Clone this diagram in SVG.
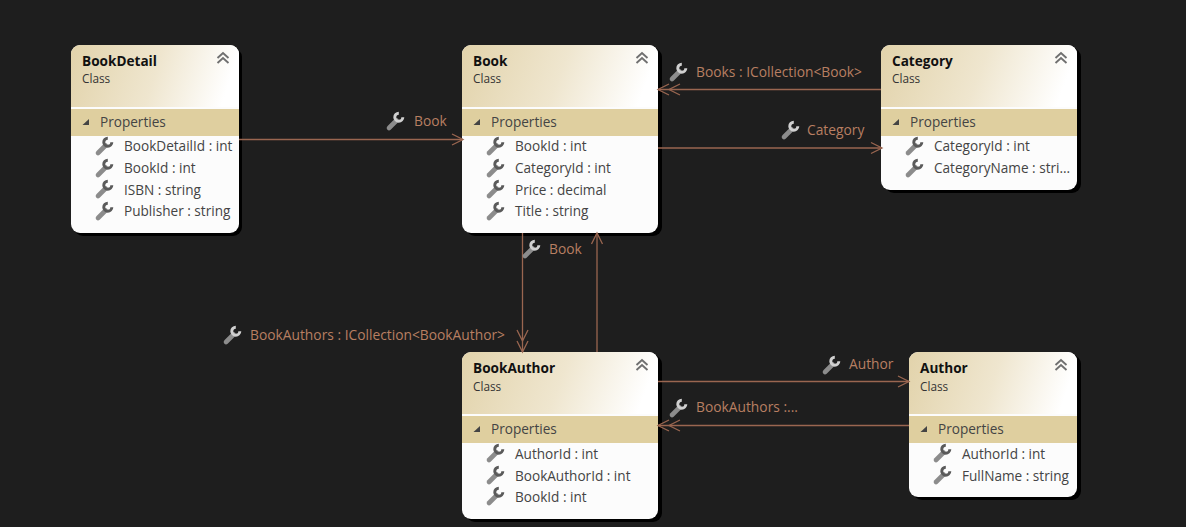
<svg xmlns="http://www.w3.org/2000/svg" width="1186" height="527" viewBox="0 0 1186 527">
<style>
text{font-family:"Open Sans","Noto Sans","Liberation Sans",sans-serif}
.t{font-size:13.6px;font-weight:700;fill:#111}
.c{font-size:11.8px;fill:#333}
.p{font-size:13.6px;fill:#444}
.l{font-size:13.8px;fill:#b87f62}
.e{fill:none;stroke:#9a6650;stroke-width:1.3}
.s{fill:#000}
.b{fill:#fcfcfc}
.h{fill:url(#hg)}
.band{fill:#dfcf9f}
.chev{fill:none;stroke:#707070;stroke-width:1.9}
.node{color:#5a5a5a}
#connectors{color:#d0d0d0}
</style>
<defs>
<linearGradient id="hg" x1="0" y1="0" x2="1" y2="0.12"><stop offset="0" stop-color="#e2d3ab"/><stop offset="0.55" stop-color="#efe6cf"/><stop offset="1" stop-color="#ffffff"/></linearGradient>
<marker id="a" markerUnits="userSpaceOnUse" markerWidth="14" markerHeight="14" refX="12" refY="7" orient="auto"><path d="M1 1.500L12 7L1 12.500" fill="none" stroke="#9a6650" stroke-width="1.3"/></marker>
<marker id="aa" markerUnits="userSpaceOnUse" markerWidth="26" markerHeight="14" refX="24" refY="7" orient="auto"><path d="M13 1.500L24 7L13 12.500M2 1.500L13 7L2 12.500" fill="none" stroke="#9a6650" stroke-width="1.3"/></marker>
<g id="w"><path d="M-6 7L1.500 -0.500" fill="none" stroke="#8c8c8c" stroke-width="4.6" stroke-linecap="round"/><path d="M3.800 -7.800A4 4 0 1 0 7.800 -3.800" fill="none" stroke="currentColor" stroke-width="3"/></g>
<g id="ch" class="chev"><path d="M-5.500 -1L0 -6L5.500 -1M-5.500 4L0 -1L5.500 4"/></g>
<g id="tri"><path d="M-3.500 3L3 3L3 -3Z" fill="#444"/></g>
</defs>
<rect width="1186" height="527" fill="#1e1e1e"/>

<g id="BookDetail" class="node">
<rect class="s" x="74" y="48" width="168" height="188" rx="9"/>
<rect class="b" x="71" y="45" width="168" height="188" rx="9"/>
<path class="h" d="M71 107V54a9 9 0 0 1 9-9H230a9 9 0 0 1 9 9V107Z"/>
<rect class="band" x="71" y="109" width="168" height="27"/>
<use href="#ch" x="223" y="59"/><use href="#tri" x="86" y="122"/>
<text class="t" x="82" y="66">BookDetail</text><text class="c" x="82" y="83">Class</text>
<text class="p" x="100" y="127">Properties</text>
<use href="#w" x="104" y="146"/><text class="p" x="124" y="151">BookDetailId : int</text>
<use href="#w" x="104" y="168"/><text class="p" x="124" y="173">BookId : int</text>
<use href="#w" x="104" y="189"/><text class="p" x="124" y="195">ISBN : string</text>
<use href="#w" x="104" y="211"/><text class="p" x="124" y="216">Publisher : string</text>
</g>

<g id="Book" class="node">
<rect class="s" x="466" y="48" width="196" height="188" rx="9"/>
<rect class="b" x="462" y="45" width="196" height="188" rx="9"/>
<path class="h" d="M462 107V54a9 9 0 0 1 9-9H649a9 9 0 0 1 9 9V107Z"/>
<rect class="band" x="462" y="109" width="196" height="27"/>
<use href="#ch" x="642" y="59"/><use href="#tri" x="477" y="122"/>
<text class="t" x="473" y="66">Book</text><text class="c" x="473" y="83">Class</text>
<text class="p" x="491" y="127">Properties</text>
<use href="#w" x="495" y="146"/><text class="p" x="515" y="151">BookId : int</text>
<use href="#w" x="495" y="168"/><text class="p" x="515" y="173">CategoryId : int</text>
<use href="#w" x="495" y="189"/><text class="p" x="515" y="195">Price : decimal</text>
<use href="#w" x="495" y="211"/><text class="p" x="515" y="216">Title : string</text>
</g>

<g id="Category" class="node">
<rect class="s" x="885" y="48" width="196" height="145" rx="9"/>
<rect class="b" x="881" y="45" width="196" height="145" rx="9"/>
<path class="h" d="M881 107V54a9 9 0 0 1 9-9H1068a9 9 0 0 1 9 9V107Z"/>
<rect class="band" x="881" y="109" width="196" height="27"/>
<use href="#ch" x="1061" y="59"/><use href="#tri" x="896" y="122"/>
<text class="t" x="892" y="66">Category</text><text class="c" x="892" y="83">Class</text>
<text class="p" x="910" y="127">Properties</text>
<use href="#w" x="914" y="146"/><text class="p" x="934" y="151">CategoryId : int</text>
<use href="#w" x="914" y="168"/><text class="p" x="934" y="173">CategoryName : stri...</text>
</g>

<g id="BookAuthor" class="node">
<rect class="s" x="466" y="355" width="196" height="167" rx="9"/>
<rect class="b" x="462" y="352" width="196" height="167" rx="9"/>
<path class="h" d="M462 414V361a9 9 0 0 1 9-9H649a9 9 0 0 1 9 9V414Z"/>
<rect class="band" x="462" y="416" width="196" height="27"/>
<use href="#ch" x="642" y="366"/><use href="#tri" x="477" y="429"/>
<text class="t" x="473" y="373">BookAuthor</text><text class="c" x="473" y="391">Class</text>
<text class="p" x="491" y="434">Properties</text>
<use href="#w" x="495" y="453"/><text class="p" x="515" y="459">AuthorId : int</text>
<use href="#w" x="495" y="475"/><text class="p" x="515" y="481">BookAuthorId : int</text>
<use href="#w" x="495" y="496"/><text class="p" x="515" y="502">BookId : int</text>
</g>

<g id="Author" class="node">
<rect class="s" x="913" y="355" width="168" height="145" rx="9"/>
<rect class="b" x="909" y="352" width="168" height="145" rx="9"/>
<path class="h" d="M909 414V361a9 9 0 0 1 9-9H1068a9 9 0 0 1 9 9V414Z"/>
<rect class="band" x="909" y="416" width="168" height="27"/>
<use href="#ch" x="1061" y="366"/><use href="#tri" x="924" y="429"/>
<text class="t" x="920" y="373">Author</text><text class="c" x="920" y="391">Class</text>
<text class="p" x="938" y="434">Properties</text>
<use href="#w" x="942" y="453"/><text class="p" x="962" y="459">AuthorId : int</text>
<use href="#w" x="942" y="475"/><text class="p" x="962" y="481">FullName : string</text>
</g>

<g id="connectors">
<path class="e" d="M239 139.500H463" marker-end="url(#a)"/>
<path class="e" d="M881 89.500H658" marker-end="url(#aa)"/>
<path class="e" d="M658 148H882" marker-end="url(#a)"/>
<path class="e" d="M522.500 233V352" marker-end="url(#aa)"/>
<path class="e" d="M597 352V233" marker-end="url(#a)"/>
<path class="e" d="M658 381.500H909" marker-end="url(#a)"/>
<path class="e" d="M909 425.500H658" marker-end="url(#aa)"/>
<use href="#w" x="395" y="121"/><text class="l" x="414" y="126">Book</text>
<use href="#w" x="678" y="72"/><text class="l" x="696" y="77">Books : ICollection&lt;Book&gt;</text>
<use href="#w" x="790" y="130"/><text class="l" x="807" y="135">Category</text>
<use href="#w" x="531" y="249"/><text class="l" x="549" y="254">Book</text>
<use href="#w" x="232" y="335"/><text class="l" x="250" y="340">BookAuthors : ICollection&lt;BookAuthor&gt;</text>
<use href="#w" x="831" y="365"/><text class="l" x="849" y="369">Author</text>
<use href="#w" x="678" y="408"/><text class="l" x="696" y="412">BookAuthors :...</text>
</g>
</svg>
